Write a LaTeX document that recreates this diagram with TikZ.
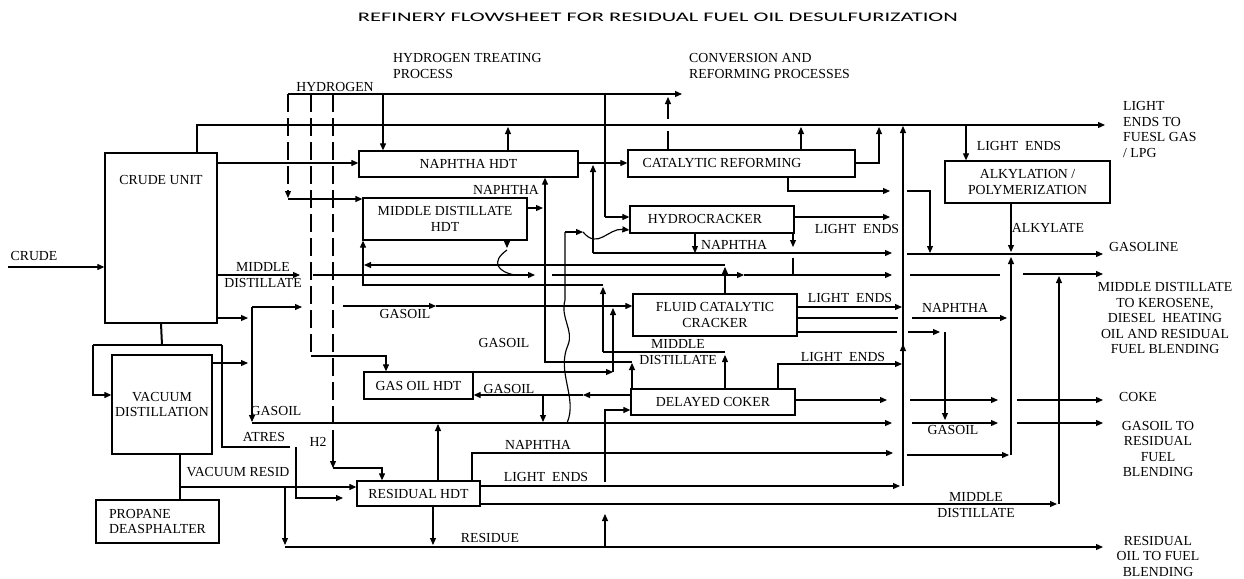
\documentclass[tikz,border=0pt]{standalone}
\usepackage{fontspec}
\setmainfont{Liberation Serif}
\newfontfamily\ttlfont{Carlito}
\usetikzlibrary{arrows.meta}
\begin{document}
\begin{tikzpicture}[x=1pt,y=-1pt,
 ln/.style={line width=1.15pt},
 ar/.style={ln,-{Triangle[length=7pt,width=6pt]}},
 dsh/.style={ln,dash pattern=on 18pt off 6pt},
 box/.style={draw, line width=1.3pt, inner sep=0pt, font=\fontsize{13.8}{15.5}\selectfont, align=center},
 lbl/.style={font=\fontsize{13.8}{15.5}\selectfont, inner sep=0pt, align=center},
]
\useasboundingbox[fill=white] (0,0) rectangle (1244,578);
% title
\node[inner sep=0pt] (title) at (658,17) {\resizebox{600pt}{8.5pt}{\ttlfont REFINERY FLOWSHEET FOR RESIDUAL FUEL OIL DESULFURIZATION}};
% boxes
\node[box, minimum width=112pt, minimum height=170pt] (cu) at (161,238) {};
\node[lbl] (cut) at (161,180) {CRUDE UNIT};
\node[box, minimum width=100pt, minimum height=99pt] (vd) at (162,404.5) {VACUUM\\DISTILLATION};
\node[box, minimum width=123pt, minimum height=43pt, align=left] (pd) at (157.5,521.5) {PROPANE\\DEASPHALTER};
\node[box, minimum width=219pt, minimum height=26pt] (nh) at (468.5,164) {NAPHTHA HDT};
\node[box, minimum width=164pt, minimum height=42pt] (md) at (445,219) {MIDDLE DISTILLATE\\HDT};
\node[box, minimum width=109pt, minimum height=27pt] (go) at (418.5,385.5) {GAS OIL HDT};
\node[box, minimum width=123pt, minimum height=25pt] (rh) at (418.5,493.5) {RESIDUAL HDT};
\node[box, minimum width=227pt, minimum height=27pt] (cr) at (741.5,163.5) {};
\node[lbl] (crt) at (722,163) {CATALYTIC REFORMING};
\node[box, minimum width=164pt, minimum height=27pt] (hc) at (712,219.5) {};
\node[lbl] (hct) at (705,219) {HYDROCRACKER};
\node[box, minimum width=164pt, minimum height=42pt] (fcc) at (715,315) {FLUID CATALYTIC\\CRACKER};
\node[box, minimum width=164pt, minimum height=26pt] (dc) at (713,402) {DELAYED COKER};
\node[box, minimum width=165pt, minimum height=42pt] (al) at (1027.5,182) {ALKYLATION /\\POLYMERIZATION};
% free labels
\node[lbl] (l1) at (335,87) {HYDROGEN};
\node[lbl, align=left, anchor=west] (l2) at (393,66) {HYDROGEN TREATING\\PROCESS};
\node[lbl, align=left, anchor=west] (l3) at (689,66) {CONVERSION AND\\REFORMING PROCESSES};
\node[lbl, align=left, anchor=west] (o1) at (1123,129.5) {LIGHT\\ENDS TO\\FUESL GAS\\/ LPG};
\node[lbl, anchor=west] (o2) at (1109,247) {GASOLINE};
\node[lbl] (o3) at (1165,318) {MIDDLE DISTILLATE\\TO KEROSENE,\\DIESEL\ \ HEATING\\OIL AND RESIDUAL\\FUEL BLENDING};
\node[lbl, anchor=west] (o4) at (1119,397) {COKE};
\node[lbl] (o5) at (1158,449) {GASOIL TO\\RESIDUAL\\FUEL\\BLENDING};
\node[lbl] (o6) at (1158,556) {RESIDUAL\\OIL TO FUEL\\BLENDING};
\node[lbl] (l4) at (34,256) {CRUDE};
\node[lbl] (l5) at (263,275) {MIDDLE\\DISTILLATE};
\node[lbl] (l6) at (405,314) {GASOIL};
\node[lbl] (l7) at (276,411) {GASOIL};
\node[lbl] (l8) at (504,343) {GASOIL};
\node[lbl] (l9) at (509,389) {GASOIL};
\node[lbl] (l10) at (953,430) {GASOIL};
\node[lbl] (l11) at (264,437) {ATRES};
\node[lbl] (l12) at (238,472) {VACUUM RESID};
\node[lbl] (l13) at (318,442) {H2};
\node[lbl] (l14) at (506,190) {NAPHTHA};
\node[lbl] (l15) at (734,245) {NAPHTHA};
\node[lbl] (l16) at (955,308) {NAPHTHA};
\node[lbl] (l17) at (538,445) {NAPHTHA};
\node[lbl] (l18) at (857,229) {LIGHT\ \ ENDS};
\node[lbl] (l19) at (850,298) {LIGHT\ \ ENDS};
\node[lbl] (l20) at (843,357) {LIGHT\ \ ENDS};
\node[lbl] (l21) at (546,477) {LIGHT\ \ ENDS};
\node[lbl] (l22) at (1019,146) {LIGHT\ \ ENDS};
\node[lbl] (l23) at (678,352) {MIDDLE\\DISTILLATE};
\node[lbl] (l24) at (1048,228) {ALKYLATE};
\node[lbl] (l25) at (976,505) {MIDDLE\\DISTILLATE};
\node[lbl] (l26) at (490,538) {RESIDUE};
% crude feed
\draw[ar] (8,267) -- (cu.west |- 0,267);
% headers
\draw[ar] (cu.north -| 197,0) -- (197,125) -- (1105,125);
\draw[ar] (288,94) -- (682,94);
% hydrogen distribution
\draw[dsh,-{Triangle[length=7pt,width=6pt]}] (288,94) -- (288,198);
\draw[ar] (288,199) -- (md.west |- 0,199);
\draw[dsh] (311,94) -- (311,356);
\draw[ar] (311,356) -- (386,356) -- (go.north -| 386,0);
\draw[dsh] (333,94) -- (333,430);
\draw[ar] (333,430) -- (333,468);
\draw[ar] (333,468) -- (382,468) -- (rh.north -| 382,0);
\draw[ar] (383,94) -- (nh.north -| 383,0);
\draw[ln] (605,94) -- (605,217);
\draw[ar] (605,217) -- (hc.west |- 0,217);
% catalytic reforming
\draw[ln] (cr.north -| 668,0) -- (668,131);
\draw[ar] (668,119) -- (668,97);
\draw[ar] (cr.north -| 801,0) -- (801,127);
\draw[ar] (cr.east |- 0,163) -- (879,163) -- (879,127);
\draw[ar] (cr.south -| 788,0) -- (788,191) -- (890,191);
\draw[ar] (907,191) -- (930,191) -- (930,253);
% naphtha HDT
\draw[ar] (nh.north -| 508,0) -- (508,127);
\draw[ar] (cu.east |- 0,163) -- (nh.west |- 0,163);
\draw[ar] (nh.east |- 0,163) -- (cr.west |- 0,163);
\draw[ar] (593,253) -- (593,165);
\draw[ar] (md.east |- 0,208) -- (543,208);
\draw[ar] (dc.north -| 632,0) -- (632,363);
\draw[ar] (632,362) -- (545,362) -- (nh.south -| 545,0);
% middle distillate returns
\draw[ar] (dc.north -| 725,0) -- (725,355);
\draw[ln] (725,352) -- (603,352);
\draw[ar] (603,352) -- (603,287);
\draw[ar] (603,285) -- (363,285) -- (md.south -| 363,0);
\draw[ar] (fcc.north -| 725,0) -- (725,267);
\draw[ar] (725,265) -- (364,265);
\draw[ar] (md.south -| 507,0) -- (507,248);
\draw[ln] (507,250) .. controls (490,262) and (498,272) .. (515,275);
% middle distillate line
\draw[ar] (cu.east |- 0,275) -- (300,275);
\draw[ar] (313,275) -- (535,275);
\draw[ar] (552,275) -- (744,275);
\draw[ar] (744,275) -- (892,275);
\draw[ln] (910,275) -- (1000,275);
% naphtha line
\draw[ar] (593,253) -- (892,253);
\draw[ar] (907,254) -- (1103,254);
\draw[ar] (hc.south -| 695,0) -- (695,253);
\draw[ar] (hc.south -| 793,0) -- (793,247);
\draw[ln] (793,258) -- (793,275);
% gasoil lines
\draw[ar] (252,307) -- (302,307);
\draw[ar] (343,306) -- (436,306);
\draw[ar] (436,306) -- (fcc.west |- 0,306);
\draw[ar] (cu.east |- 0,318) -- (248,318);
\draw[ar] (252,307) -- (252,422);
\draw[ar] (252,423) -- (892,423);
\draw[ar] (912,423) -- (998,423);
\draw[ar] (1017,423) -- (1103,423);
\draw[ar] (vd.east |- 0,363) -- (248,363);
\draw[ln] (567,423) .. controls (578,398) and (556,372) .. (568,345) .. controls (574,330) and (560,318) .. (565,300) -- (565,232);
\draw[ar] (565,232) -- (583,232);
\draw[ar] (583,232) .. controls (598,250) and (608,228) .. (hc.west |- 0,230);
% crude bottoms
\draw[line width=2pt] (cu.south) -- (162,345);
\draw[line width=2pt] (93,345) -- (222,345);
\draw[ar] (93,345) -- (93,395) -- (vd.west |- 0,395);
\draw[ln] (222,345) -- (222,447) -- (290,447);
\draw[ar] (296,447) -- (296,498) -- (343,498);
% vacuum resid
\draw[ln] (vd.south -| 180,0) -- (180,487);
\draw[ln] (180,487) -- (pd.north -| 180,0);
\draw[ar] (180,487) -- (rh.west |- 0,487);
\draw[ar] (285,487) -- (285,545);
\draw[ar] (285,547) -- (1103,547);
% residual HDT
\draw[ar] (rh.north -| 438,0) -- (438,424);
\draw[ar] (rh.north -| 472,0) -- (472,453) -- (893,453);
\draw[ar] (907,455) -- (1009,455);
\draw[ar] (1011,455) -- (1011,257);
\draw[ar] (rh.east |- 0,486) -- (900,486);
\draw[ar] (rh.east |- 0,504) -- (1057,504);
\draw[ar] (1059,504) -- (1059,276);
\draw[ar] (1023,274) -- (1103,274);
\draw[ar] (rh.south -| 433,0) -- (433,545);
\draw[ar] (605,547) -- (605,514);
\draw[ar] (605,482) -- (605,410) -- (dc.west |- 0,410);
% delayed coker
\draw[ar] (dc.east |- 0,400) -- (887,400);
\draw[ar] (910,400) -- (998,400);
\draw[ar] (1017,400) -- (1103,400);
\draw[ar] (dc.west |- 0,395) -- (583,395);
\draw[ar] (583,395) -- (go.east |- 0,395);
\draw[ar] (go.east |- 0,372) -- (613,372);
\draw[ar] (613,372) -- (613,308);
\draw[ar] (543,395) -- (543,422);
\draw[ar] (dc.north -| 778,0) -- (778,364) -- (902,364);
% FCC
\draw[ar] (fcc.east |- 0,307) -- (902,307);
\draw[ln] (fcc.east |- 0,318) -- (898,318);
\draw[ar] (912,318) -- (1007,318);
\draw[ln] (fcc.east |- 0,332) -- (897,332);
\draw[ar] (908,332) -- (940,332);
\draw[ar] (945,332) -- (945,420);
% hydrocracker
\draw[ar] (hc.east |- 0,217) -- (890,217);
% light ends collector
\draw[ar] (903,486) -- (903,126);
\draw[ar] (903,360) -- (903,344);
% alkylation
\draw[ar] (966,125) -- (al.north -| 966,0);
\draw[ar] (al.south -| 1011,0) -- (1011,252);
\end{tikzpicture}
\end{document}
